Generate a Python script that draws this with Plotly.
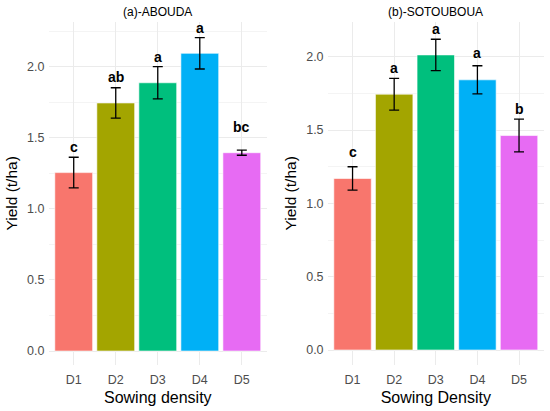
import plotly.graph_objects as go

# sowing density treatments
densities = ["D1", "D2", "D3", "D4", "D5"]
bar_colors = ["#F8766D", "#A3A500", "#00BF7D", "#00B0F6", "#E76BF3"]

# (a) ABOUDA
abouda_yield = [1.255, 1.745, 1.887, 2.094, 1.395]
abouda_se = [0.108, 0.107, 0.113, 0.110, 0.018]
abouda_letters = ["c", "ab", "a", "a", "bc"]

# (b) SOTOUBOUA
sotouboua_yield = [1.170, 1.745, 2.013, 1.843, 1.463]
sotouboua_se = [0.080, 0.108, 0.107, 0.096, 0.112]
sotouboua_letters = ["c", "a", "a", "a", "b"]

LABEL_OFFSET = 0.18
FONT = "Liberation Sans, Arial, sans-serif"

fig = go.Figure()

panels = [
    ("x", "y", abouda_yield, abouda_se, abouda_letters),
    ("x2", "y2", sotouboua_yield, sotouboua_se, sotouboua_letters),
]

for xa, ya, vals, se, letters in panels:
    fig.add_trace(go.Bar(
        x=densities, y=vals, xaxis=xa, yaxis=ya,
        width=0.9,
        marker=dict(color=bar_colors, line=dict(color="white", width=0.6)),
        error_y=dict(type="data", array=se, visible=True,
                     color="black", thickness=1.3, width=5),
        showlegend=False,
    ))
    for d, v, lab in zip(densities, vals, letters):
        fig.add_annotation(
            x=d, y=v + LABEL_OFFSET, xref=xa, yref=ya,
            text="<b>%s</b>" % lab, showarrow=False,
            font=dict(size=14, color="black", family=FONT),
            yanchor="middle",
        )

xcommon = dict(
    showgrid=True, gridcolor="#EBEBEB", gridwidth=1,
    ticks="", showline=False, zeroline=False,
    tickfont=dict(size=12.5, color="#4D4D4D", family=FONT),
    ticklabelstandoff=6,
    range=[-0.6, 4.6],
    title_font=dict(size=16, color="black", family=FONT),
    title_standoff=5,
)
ycommon = dict(
    showgrid=True, gridcolor="#EBEBEB", gridwidth=1,
    minor=dict(showgrid=True, gridcolor="#F4F4F4", gridwidth=0.6, dtick=0.25),
    ticks="", showline=False, zeroline=False,
    dtick=0.5, tickformat=".1f",
    tickfont=dict(size=12.5, color="#4D4D4D", family=FONT),
    ticklabelstandoff=3,
    title=dict(text="Yield (t/ha)", font=dict(size=15.5, color="black", family=FONT),
               standoff=5),
)

fig.update_layout(
    width=550, height=411,
    margin=dict(l=0, r=0, t=0, b=0),
    plot_bgcolor="white", paper_bgcolor="white",
    bargap=0.1,
    xaxis=dict(xcommon, domain=[0.0882, 0.4855], anchor="y",
               title=dict(text="Sowing density")),
    xaxis2=dict(xcommon, domain=[0.5956, 0.9891], anchor="y2",
                title=dict(text="Sowing Density")),
    yaxis=dict(ycommon, domain=[0.112, 0.947], anchor="x", range=[-0.098, 2.316]),
    yaxis2=dict(ycommon, domain=[0.112, 0.947], anchor="x2", range=[-0.102, 2.239]),
)

# panel titles, centred over each panel
fig.add_annotation(x=0.2869, y=0.971, xref="paper", yref="paper",
                   xanchor="center", yanchor="middle",
                   text="(a)-ABOUDA", showarrow=False,
                   font=dict(size=12, color="black", family=FONT))
fig.add_annotation(x=0.7924, y=0.971, xref="paper", yref="paper",
                   xanchor="center", yanchor="middle",
                   text="(b)-SOTOUBOUA", showarrow=False,
                   font=dict(size=12, color="black", family=FONT))

fig.write_html("out.html", config={"displayModeBar": False},
               post_script="document.body.style.margin='0';")
